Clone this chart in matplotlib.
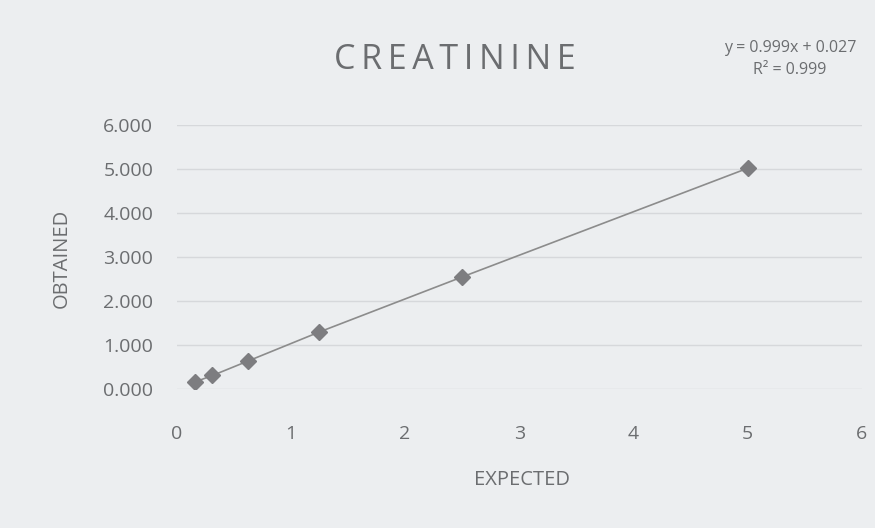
import matplotlib.pyplot as plt

plt.rcParams['font.family'] = ['Open Sans', 'DejaVu Sans']

expected = [0.156, 0.3125, 0.625, 1.25, 2.5, 5.0]
obtained = [0.16, 0.31, 0.64, 1.30, 2.55, 5.02]
x_ticks = [0, 1, 2, 3, 4, 5, 6]
y_ticks = [0, 1, 2, 3, 4, 5, 6]

BG = "#eceef0"
TEXT = "#6b6d70"

fig = plt.figure(figsize=(8.75, 5.28), dpi=100, facecolor=BG)
ax = fig.add_axes([0.202, 0.263, 0.783, 0.5], facecolor=BG)

ax.plot(expected, obtained, color="#8c8c8c", linewidth=1.2,
        marker="D", markersize=8, markerfacecolor="#7d7d80",
        markeredgecolor="#7d7d80", zorder=3)

ax.set_xlim(0, 6)
ax.set_ylim(0, 6)
ax.set_xticks(x_ticks)
ax.set_yticks(y_ticks)
ax.set_yticklabels([f"{v:.3f}" for v in y_ticks])
ax.tick_params(length=0, labelsize=14, colors=TEXT)
ax.tick_params(axis="x", pad=26)
ax.tick_params(axis="y", pad=17)
for s in ax.spines.values():
    s.set_visible(False)
ax.yaxis.grid(True, color="#d6d8db", linewidth=1)
ax.set_axisbelow(True)

ax.set_xlabel("EXPECTED", fontsize=14.5, color=TEXT, va="center")
ax.set_ylabel("OBTAINED", fontsize=14.5, color=TEXT, va="center")
ax.xaxis.set_label_coords(0.504, -0.345)
ax.yaxis.set_label_coords(-0.168, 0.496)

title = "\u2009".join("CREATININE")
fig.text(0.52, 0.886, title, fontsize=24.5, color=TEXT,
         ha="center", va="center")
fig.text(0.903, 0.909, "y = 0.999x + 0.027", fontsize=11.5, color=TEXT,
         ha="center", va="center")
fig.text(0.903, 0.867, "R² = 0.999", fontsize=11.5, color=TEXT,
         ha="center", va="center")

fig.savefig("out.png", dpi=100, facecolor=BG)
